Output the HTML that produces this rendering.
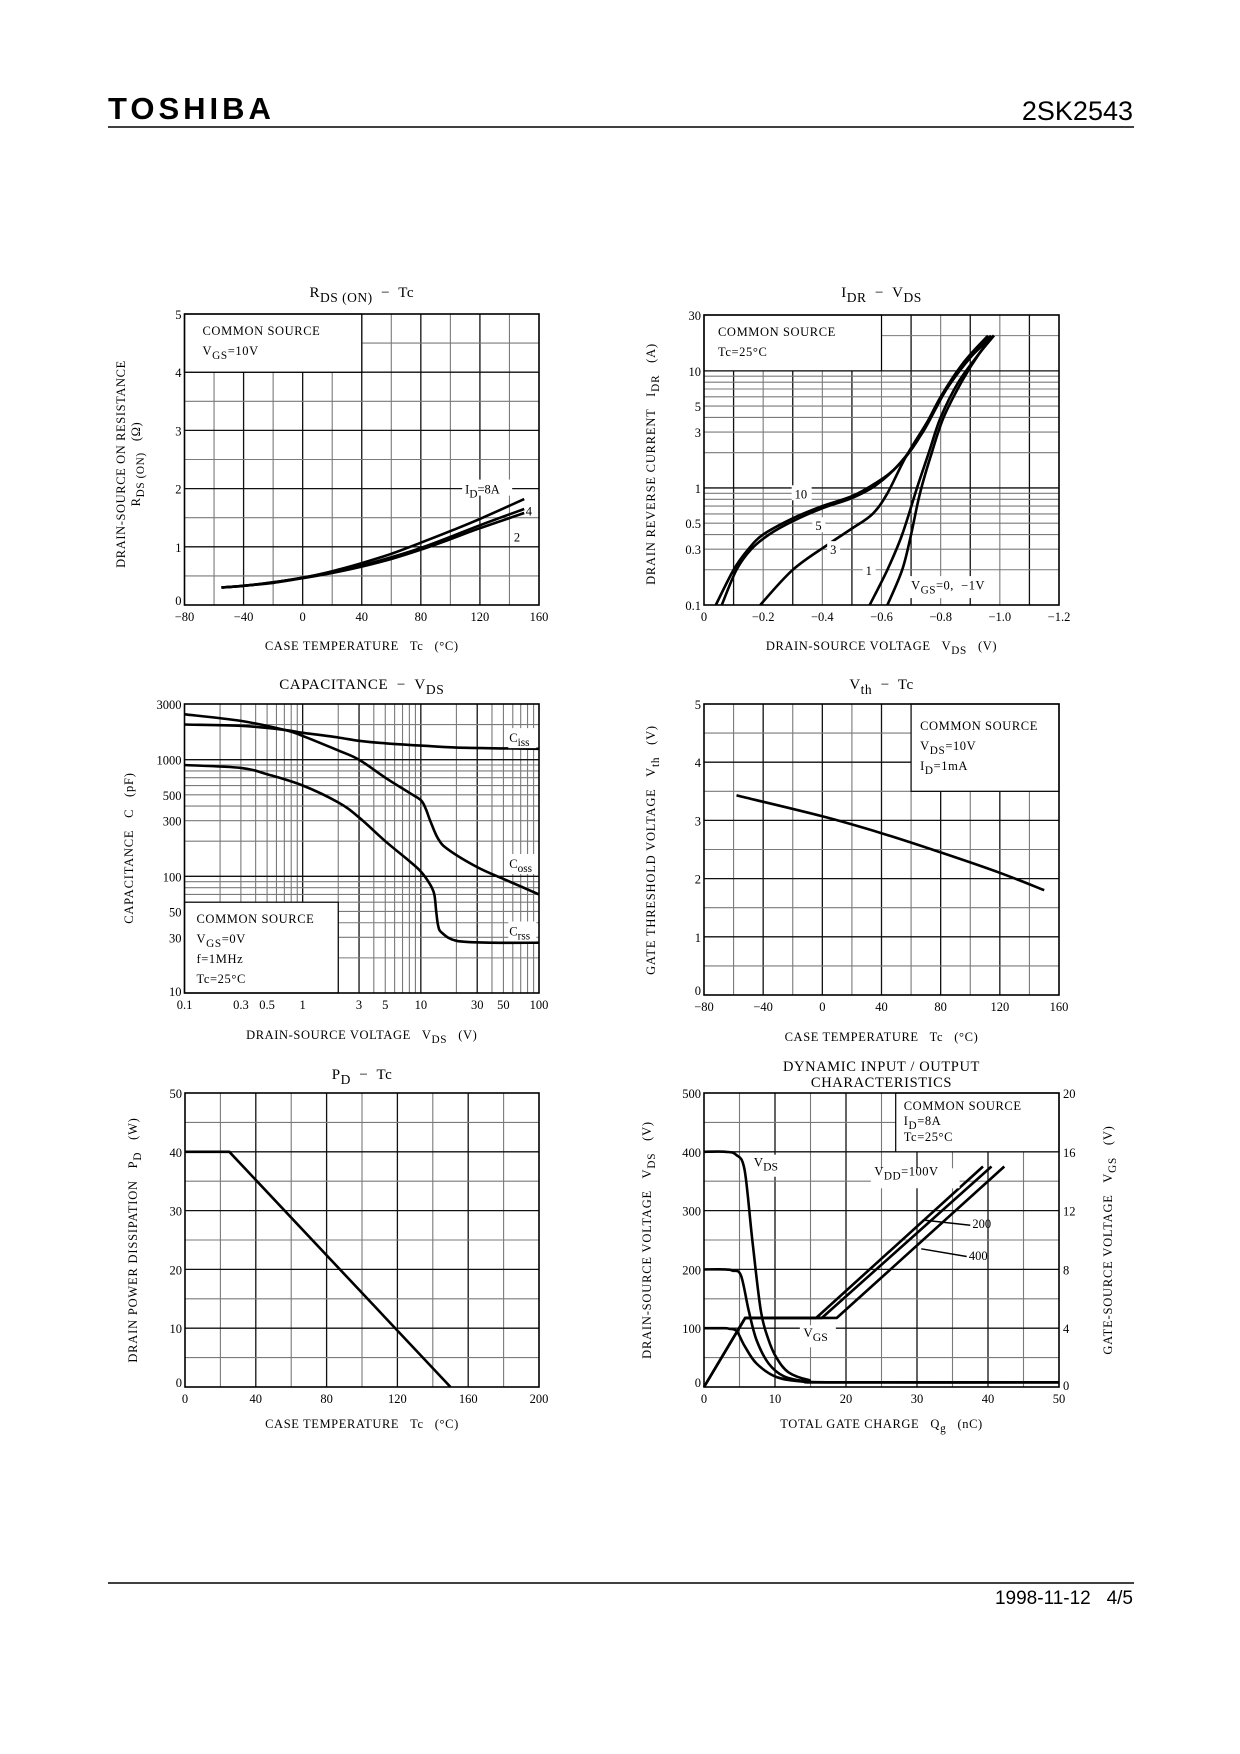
<!DOCTYPE html>
<html><head><meta charset="utf-8"><title>2SK2543 characteristics</title>
<style>
html,body{margin:0;padding:0;background:#fff;}
#page{position:relative;width:1240px;height:1754px;overflow:hidden;background:#fff;}
svg text{font-family:"Liberation Serif",serif;fill:#000;white-space:pre;}
</style></head>
<body>
<div id="page">
<svg id="svg" width="1240" height="1754" viewBox="0 0 1240 1754">
  <text x="108" y="119" font-weight="bold" font-size="31" style="font-family:'Liberation Sans',sans-serif;letter-spacing:4px">TOSHIBA</text>
  <text x="1133" y="120" text-anchor="end" font-size="27" style="font-family:'Liberation Sans',sans-serif">2SK2543</text>
  <line x1="108" y1="127" x2="1134" y2="127" stroke="#000" stroke-width="1.5"/>
  <line x1="108" y1="1583" x2="1134" y2="1583" stroke="#000" stroke-width="1.5"/>
  <text x="1133" y="1604" text-anchor="end" font-size="19" style="font-family:'Liberation Sans',sans-serif">1998-11-12&#160;&#160;&#160;4/5</text>
</svg>
</div>
<script>
// ---------- DATA ----------
const rdsTemps = [-55,-40,-20,0,20,40,60,80,100,120,150];
const rdsId8 = [0.30,0.33,0.39,0.47,0.58,0.72,0.88,1.07,1.27,1.48,1.82];
const rdsId4 = [0.30,0.33,0.39,0.47,0.56,0.68,0.82,0.98,1.17,1.37,1.65];
const rdsId2 = [0.30,0.33,0.38,0.46,0.55,0.66,0.79,0.95,1.13,1.32,1.58];
const rdsXTicks = [-80,-40,0,40,80,120,160];
const rdsYTicks = [0,1,2,3,4,5];
const idrV10 = [0.04,0.10,0.15,0.20,0.30,0.40,0.50,0.58,0.65,0.72,0.80,0.88,0.96];
const idrI10 = [0.1,0.2,0.3,0.4,0.55,0.7,0.85,1.1,1.5,2.5,6,12,20];
const idrV5 = [0.06,0.11,0.16,0.22,0.30,0.40,0.50,0.58,0.66,0.74,0.82,0.90,0.97];
const idrI5 = [0.1,0.2,0.3,0.4,0.52,0.67,0.82,1.05,1.6,3,7,13,20];
const idrV3 = [0.19,0.30,0.42,0.50,0.57,0.62,0.68,0.75,0.82,0.90,0.98];
const idrI3 = [0.1,0.2,0.33,0.45,0.6,0.9,1.8,3.5,7,13,20];
const idrV1 = [0.56,0.62,0.67,0.72,0.76,0.80,0.86,0.93,0.98];
const idrI1 = [0.1,0.2,0.4,1,2,4,8,14,20];
const idrV0 = [0.62,0.67,0.70,0.73,0.77,0.81,0.87,0.93,0.98];
const idrI0 = [0.1,0.2,0.4,0.9,2,4,8,14,20];
const idrXTicks = [0,0.2,0.4,0.6,0.8,1.0,1.2];
const idrXLabels = ["0","\u22120.2","\u22120.4","\u22120.6","\u22120.8","\u22121.0","\u22121.2"];
const idrYTicks = [0.1,0.3,0.5,1,3,5,10,30];
const cissV = [0.1,0.3,0.7,1,2,3,5,10,20,50,100];
const cissC = [2000,1950,1800,1700,1550,1450,1380,1320,1270,1250,1240];
const cossV = [0.1,0.3,0.7,1,2,3,5,8,10,11,12,14,17,30,50,100];
const cossC = [2450,2150,1800,1600,1200,1000,700,520,450,380,300,210,170,120,95,70];
const crssV = [0.1,0.3,0.5,1,2,3,5,8,10,12,13,13.5,14,15,20,40,100];
const crssC = [900,850,750,600,430,320,200,135,110,85,70,50,38,33,28,27,27];
const capXTicks = [0.1,0.3,0.5,1,3,5,10,30,50,100];
const capYTicks = [10,30,50,100,300,500,1000,3000];
const vthTemps = [-58,0,40,80,120,150];
const vthVals = [3.43,3.07,2.78,2.45,2.10,1.80];
const vthXTicks = [-80,-40,0,40,80,120,160];
const vthYTicks = [0,1,2,3,4,5];
const pdTemps = [0,25,150];
const pdVals = [40,40,0];
const pdXTicks = [0,40,80,120,160,200];
const pdYTicks = [0,10,20,30,40,50];
const dynQ400 = [0,3,4.5,5.7,6.8,8,9.1,10.2,11.9,14.7,18,50];
const dynV400 = [400,400,395,370,250,130,80,50,25,12,8,8];
const dynQ200 = [0,3,4,5.2,6.3,7.4,9.1,11.3,14.7,18,50];
const dynV200 = [200,200,198,190,130,80,40,18,9,8,8];
const dynQ100 = [0,3,3.5,4.6,5.7,7.4,10.2,14,18,50];
const dynV100 = [100,100,99,95,70,40,17,9,8,8];
const vgsQ100 = [0,5.8,15.8,39.3];
const vgsV100 = [0,4.7,4.7,15];
const vgsQ200 = [0,5.8,16.6,40.5];
const vgsV200 = [0,4.7,4.7,15];
const vgsQ400 = [0,5.8,18.7,42.3];
const vgsV400 = [0,4.7,4.7,15];
const dynXTicks = [0,10,20,30,40,50];
const dynYTicks = [0,100,200,300,400,500];
const dynY2Ticks = [0,4,8,12,16,20];

// ---------- HELPERS ----------
const NS = 'http://www.w3.org/2000/svg';
const svg = document.getElementById('svg');
function el(tag, attrs, parent){
  const e = document.createElementNS(NS, tag);
  for (const k in attrs) e.setAttribute(k, attrs[k]);
  (parent || svg).appendChild(e);
  return e;
}
function lin(d0,d1,p0,p1){ return v => p0 + (v-d0)/(d1-d0)*(p1-p0); }
function lg(d0,d1,p0,p1){ return v => p0 + (Math.log10(v)-Math.log10(d0))/(Math.log10(d1)-Math.log10(d0))*(p1-p0); }
function rich(t, s, size){
  const parts = s.split(/(_\{[^}]*\})/);
  let sub = false;
  for (const p of parts){
    if (!p) continue;
    const ts = document.createElementNS(NS,'tspan');
    
    
    if (p.startsWith('_{')){
      ts.textContent = p.slice(2,-1);
      ts.setAttribute('dy', size*0.32);
      ts.setAttribute('font-size', size*0.9);
      sub = true;
    } else {
      ts.textContent = p;
      if (sub){ ts.setAttribute('dy', -size*0.32); sub = false; }
    }
    t.appendChild(ts);
  }
}
function txt(x,y,s,size,anchor,name,rot,ls){
  const t = el('text',{x:x,y:y,'font-size':size,'text-anchor':anchor||'start'});
  
  
  if (ls) t.setAttribute('letter-spacing', ls);
  if (rot) t.setAttribute('transform','rotate(-90 '+x+' '+y+')');
  rich(t,s,size);
  return t;
}
function curvePath(pts){
  let d = 'M'+pts[0][0].toFixed(1)+','+pts[0][1].toFixed(1);
  for (let i=0;i<pts.length-1;i++){
    const p0=pts[Math.max(0,i-1)], p1=pts[i], p2=pts[i+1], p3=pts[Math.min(pts.length-1,i+2)];
    const c1=[p1[0]+(p2[0]-p0[0])/6, p1[1]+(p2[1]-p0[1])/6];
    const c2=[p2[0]-(p3[0]-p1[0])/6, p2[1]-(p3[1]-p1[1])/6];
    d += ' C'+c1[0].toFixed(1)+','+c1[1].toFixed(1)+' '+c2[0].toFixed(1)+','+c2[1].toFixed(1)+' '+p2[0].toFixed(1)+','+p2[1].toFixed(1);
  }
  return d;
}
function series(xs, ys, sx, sy, name, straight){
  const pts = xs.map((v,i)=>[sx(v), sy(ys[i])]);
  const d = straight ? 'M'+pts.map(p=>p[0].toFixed(1)+','+p[1].toFixed(1)).join(' L') : curvePath(pts);
  const p = el('path',{d:d,fill:'none',stroke:'#000','stroke-width':2.6,'stroke-linejoin':'round'});
  
  
  return p;
}
function vline(x,y0,y1,major){
  const l = el('line',{x1:x,y1:y0,x2:x,y2:y1,stroke:major?'#111':'#7a7a7a','stroke-width':major?1.3:1.1});
  
  
}
function hline(y,x0,x1,major){
  const l = el('line',{x1:x0,y1:y,x2:x1,y2:y,stroke:major?'#111':'#7a7a7a','stroke-width':major?1.3:1.1});
  
  
}
function frame(P,name){
  const r = el('rect',{x:P.x0,y:P.yt,width:P.x1-P.x0,height:P.yb-P.yt,fill:'none',stroke:'#000','stroke-width':1.6});
  
  
}
function box(x0,y0,x1,y1,name){
  const r = el('rect',{x:Math.min(x0,x1),y:Math.min(y0,y1),width:Math.abs(x1-x0),height:Math.abs(y1-y0),fill:'#fff',stroke:'#000','stroke-width':1.2});
  
  
}
function lines(vals, f, P, isV, majorFn){
  vals.forEach(v=>{ const p=f(v); if(isV) vline(p,P.yt,P.yb,majorFn(v)); else hline(p,P.x0,P.x1,majorFn(v)); });
}
function range(a,b,s){ const r=[]; for(let v=a; v<=b+1e-9; v+=s) r.push(+v.toFixed(6)); return r; }
function fmtT(v){ return v<0 ? '\u2212'+Math.abs(v) : String(v); }

// ---------- CHART 1 ----------
(function(){
  const P={x0:184.5,x1:539,yt:314,yb:605};
  const sx=lin(-80,160,P.x0,P.x1), sy=lin(0,5,P.yb,P.yt);
  lines(range(-60,140,20),sx,P,true,v=>v%40===0);
  lines(range(0.5,4.5,0.5),sy,P,false,v=>Number.isInteger(v));
  box(sx(-80),sy(5),sx(40),sy(4),'legend-box-rds');
  frame(P,'plot-frame-rds');
  txt(sx(-80)+18,sy(5)+21,'COMMON SOURCE',12.5,'start','legend-common-source',false,0.6);
  txt(sx(-80)+18,sy(5)+41,'V_{GS}=10V',12.5,'start','legend-vgs',false,0.6);
  series(rdsTemps,rdsId8,sx,sy,'series-id-8a');
  series(rdsTemps,rdsId4,sx,sy,'series-id-4a');
  series(rdsTemps,rdsId2,sx,sy,'series-id-2a');
  const bg=el('rect',{x:sx(108),y:sy(2)-9,width:50,height:16,fill:'#fff'});
   
  txt(sx(110),sy(2)+5,'I_{D}=8A',12.5,'start','label-id-8a');
  txt(sx(151),sy(1.62)+5,'4',12.5,'start','label-id-4a');
  txt(sx(143),sy(1.18)+5,'2',12.5,'start','label-id-2a');
  rdsXTicks.forEach(v=>txt(sx(v),P.yb+16,fmtT(v),12.5,'middle','x-tick-label'));
  rdsYTicks.forEach(v=>txt(P.x0-3,sy(v)+(v===0?0:5),String(v),12.5,'end','y-tick-label'));
  txt((P.x0+P.x1)/2,297,'R_{DS (ON)}  \u2212  Tc',15,'middle','chart-title-rds',false,0.5);
  txt((P.x0+P.x1)/2,650,'CASE TEMPERATURE   Tc   (\u00b0C)',12.5,'middle','x-axis-title-rds',false,0.6);
  txt(125,464,'DRAIN-SOURCE ON RESISTANCE',12.5,'middle','y-axis-title-rds',true,0.6);
  txt(140,464,'R_{DS (ON)}   (\u03a9)',12.5,'middle','y-axis-title-rds-2',true,0.6);
})();

// ---------- CHART 2 ----------
(function(){
  const P={x0:704,x1:1059,yt:315,yb:605};
  const sx=lin(0,1.2,P.x0,P.x1), sy=lg(0.1,30,P.yb,P.yt);
  lines(range(0.1,1.1,0.1),sx,P,true,v=>Math.round(v*10)%2===1);
  const hv=[0.2,0.3,0.4,0.5,0.6,0.7,0.8,0.9,1,2,3,4,5,6,7,8,9,10,20];
  lines(hv,sy,P,false,v=>v===1||v===10);
  box(sx(0),sy(30),sx(0.6),sy(10),'legend-box-idr');
  frame(P,'plot-frame-idr');
  txt(sx(0)+14,sy(30)+21,'COMMON SOURCE',12.5,'start','legend-common-source',false,0.6);
  txt(sx(0)+14,sy(30)+41,'Tc=25\u00b0C',12.5,'start','legend-tc',false,0.6);
  series(idrV10,idrI10,sx,sy,'series-vgs-10v');
  series(idrV5,idrI5,sx,sy,'series-vgs-5v');
  series(idrV3,idrI3,sx,sy,'series-vgs-3v');
  series(idrV1,idrI1,sx,sy,'series-vgs-1v');
  series(idrV0,idrI0,sx,sy,'series-vgs-0v');
  [['10',0.32,0.9],['5',0.39,0.48],['3',0.44,0.3],['1',0.56,0.2]].forEach(a=>{
    const r=el('rect',{x:sx(a[1])-7,y:sy(a[2])-8,width:a[0].length*7+6,height:15,fill:'#fff'});
     
    txt(sx(a[1])-4,sy(a[2])+5,a[0],12.5,'start','curve-label-'+a[0]);
  });
  const r2=el('rect',{x:sx(0.69),y:sy(0.16)-5,width:sx(0.98)-sx(0.69),height:22,fill:'#fff'});
   
  txt(sx(0.7),sy(0.135),'V_{GS}=0,  \u22121V',12.5,'start','curve-label-vgs-0',false,0.5);
  idrXTicks.forEach((v,i)=>txt(sx(v),P.yb+16,idrXLabels[i],12.5,'middle','x-tick-label'));
  idrYTicks.forEach(v=>txt(P.x0-3,sy(v)+5,String(v),12.5,'end','y-tick-label'));
  txt((P.x0+P.x1)/2,297,'I_{DR}  \u2212  V_{DS}',15,'middle','chart-title-idr',false,0.5);
  txt((P.x0+P.x1)/2,650,'DRAIN-SOURCE VOLTAGE   V_{DS}   (V)',12.5,'middle','x-axis-title-idr',false,0.6);
  txt(655,464,'DRAIN REVERSE CURRENT   I_{DR}   (A)',12.5,'middle','y-axis-title-idr',true,0.8);
})();

// ---------- CHART 3 ----------
(function(){
  const P={x0:184.5,x1:539,yt:704,yb:993};
  const sx=lg(0.1,100,P.x0,P.x1), sy=lg(10,3000,P.yb,P.yt);
  const xv=[]; [0.1,1,10].forEach(d=>{for(let k=2;k<=10;k++){ if(d*k<100) xv.push(+(d*k).toFixed(3)); }});
  lines(xv,sx,P,true,v=>v===1||v===10||v===3||v===30);
  const yv=[]; [10,100,1000].forEach(d=>{for(let k=2;k<=10;k++){ if(d*k<3000) yv.push(d*k); }});
  lines(yv,sy,P,false,v=>v===100||v===1000);
  box(sx(0.1),sy(60),sx(2),sy(10),'legend-box-cap');
  frame(P,'plot-frame-cap');
  series(cissV,cissC,sx,sy,'series-ciss');
  series(cossV,cossC,sx,sy,'series-coss');
  series(crssV,crssC,sx,sy,'series-crss');
  [['C_{iss}',1500],['C_{oss}',125],['C_{rss}',33]].forEach(a=>{
    const r=el('rect',{x:sx(55),y:sy(a[1])-11,width:sx(95)-sx(55),height:20,fill:'#fff'});
     
    txt(sx(56),sy(a[1])+3,a[0],12.5,'start','curve-label-cap');
  });
  txt(sx(0.1)+12,sy(60)+21,'COMMON SOURCE',12.5,'start','legend-common-source',false,0.6);
  txt(sx(0.1)+12,sy(60)+41,'V_{GS}=0V',12.5,'start','legend-vgs',false,0.6);
  txt(sx(0.1)+12,sy(60)+61,'f=1MHz',12.5,'start','legend-freq',false,0.6);
  txt(sx(0.1)+12,sy(60)+81,'Tc=25\u00b0C',12.5,'start','legend-tc',false,0.6);
  capXTicks.forEach(v=>txt(sx(v),P.yb+16,String(v),12.5,'middle','x-tick-label'));
  capYTicks.forEach(v=>txt(P.x0-3,sy(v)+(v===10?3:5),String(v),12.5,'end','y-tick-label'));
  txt((P.x0+P.x1)/2,689,'CAPACITANCE  \u2212  V_{DS}',15,'middle','chart-title-cap',false,0.6);
  txt((P.x0+P.x1)/2,1039,'DRAIN-SOURCE VOLTAGE   V_{DS}   (V)',12.5,'middle','x-axis-title-cap',false,0.6);
  txt(133,848,'CAPACITANCE   C   (pF)',12.5,'middle','y-axis-title-cap',true,0.8);
})();

// ---------- CHART 4 ----------
(function(){
  const P={x0:704,x1:1059,yt:704,yb:995};
  const sx=lin(-80,160,P.x0,P.x1), sy=lin(0,5,P.yb,P.yt);
  lines(range(-60,140,20),sx,P,true,v=>v%40===0);
  lines(range(0.5,4.5,0.5),sy,P,false,v=>Number.isInteger(v));
  box(sx(60),sy(5),sx(160),sy(3.5),'legend-box-vth');
  frame(P,'plot-frame-vth');
  txt(sx(60)+9,sy(5)+26,'COMMON SOURCE',12.5,'start','legend-common-source',false,0.6);
  txt(sx(60)+9,sy(5)+46,'V_{DS}=10V',12.5,'start','legend-vds',false,0.6);
  txt(sx(60)+9,sy(5)+66,'I_{D}=1mA',12.5,'start','legend-id',false,0.6);
  series(vthTemps,vthVals,sx,sy,'series-vth');
  vthXTicks.forEach(v=>txt(sx(v),P.yb+16,fmtT(v),12.5,'middle','x-tick-label'));
  vthYTicks.forEach(v=>txt(P.x0-3,sy(v)+(v===0?0:5),String(v),12.5,'end','y-tick-label'));
  txt((P.x0+P.x1)/2,689,'V_{th}  \u2212  Tc',15,'middle','chart-title-vth',false,0.5);
  txt((P.x0+P.x1)/2,1041,'CASE TEMPERATURE   Tc   (\u00b0C)',12.5,'middle','x-axis-title-vth',false,0.6);
  txt(655,850,'GATE THRESHOLD VOLTAGE   V_{th}   (V)',12.5,'middle','y-axis-title-vth',true,0.8);
})();

// ---------- CHART 5 ----------
(function(){
  const P={x0:185,x1:539,yt:1093,yb:1387};
  const sx=lin(0,200,P.x0,P.x1), sy=lin(0,50,P.yb,P.yt);
  lines(range(20,180,20),sx,P,true,v=>v%40===0);
  lines(range(5,45,5),sy,P,false,v=>v%10===0);
  frame(P,'plot-frame-pd');
  series(pdTemps,pdVals,sx,sy,'series-pd',true);
  pdXTicks.forEach(v=>txt(sx(v),P.yb+16,String(v),12.5,'middle','x-tick-label'));
  pdYTicks.forEach(v=>txt(P.x0-3,sy(v)+(v===0?0:5),String(v),12.5,'end','y-tick-label'));
  txt((P.x0+P.x1)/2,1079,'P_{D}  \u2212  Tc',15,'middle','chart-title-pd',false,0.5);
  txt((P.x0+P.x1)/2,1428,'CASE TEMPERATURE   Tc   (\u00b0C)',12.5,'middle','x-axis-title-pd',false,0.6);
  txt(137,1240,'DRAIN POWER DISSIPATION   P_{D}   (W)',12.5,'middle','y-axis-title-pd',true,0.8);
})();

// ---------- CHART 6 ----------
(function(){
  const P={x0:704,x1:1059,yt:1093,yb:1387};
  const sx=lin(0,50,P.x0,P.x1), sy=lin(0,500,P.yb,P.yt), sy2=lin(0,20,P.yb,P.yt);
  lines(range(5,45,5),sx,P,true,v=>v%10===0);
  lines(range(50,450,50),sy,P,false,v=>v%100===0);
  box(sx(27),sy(500),sx(50),sy(400),'legend-box-dyn');
  frame(P,'plot-frame-dyn');
  txt(sx(27)+8,sy(500)+17,'COMMON SOURCE',12.5,'start','legend-common-source',false,0.6);
  txt(sx(27)+8,sy(500)+32,'I_{D}=8A',12.5,'start','legend-id',false,0.6);
  txt(sx(27)+8,sy(500)+48,'Tc=25\u00b0C',12.5,'start','legend-tc',false,0.6);
  series(dynQ400,dynV400,sx,sy,'series-vds-400v');
  series(dynQ200,dynV200,sx,sy,'series-vds-200v');
  series(dynQ100,dynV100,sx,sy,'series-vds-100v');
  series(vgsQ100,vgsV100,sx,sy2,'series-vgs-vdd-100v',true);
  series(vgsQ200,vgsV200,sx,sy2,'series-vgs-vdd-200v',true);
  series(vgsQ400,vgsV400,sx,sy2,'series-vgs-vdd-400v',true);
  const b1=el('rect',{x:sx(6.5),y:sy(395),width:36,height:22,fill:'#fff'});
   
  txt(sx(7),sy(375),'V_{DS}',13,'start','label-vds');
  const b2=el('rect',{x:sx(13.5),y:sy(105),width:36,height:22,fill:'#fff'});
   
  txt(sx(14),sy(85),'V_{GS}',13,'start','label-vgs');
  const b3=el('rect',{x:sx(23.5),y:sy(372),width:sx(36)-sx(23.5),height:20,fill:'#fff'});
   
  txt(sx(24),sy(360),'V_{DD}=100V',12.5,'start','label-vdd-100',false,0.5);
  const a1=el('line',{x1:sx(37.5),y1:sy(275),x2:sx(30.8),y2:sy(284),stroke:'#000','stroke-width':1.5});
   
  const a2=el('line',{x1:sx(37),y1:sy(222),x2:sx(30.6),y2:sy(235),stroke:'#000','stroke-width':1.5});
   
  txt(sx(37.8),sy(270),'200',12.5,'start','label-vdd-200');
  txt(sx(37.3),sy(216),'400',12.5,'start','label-vdd-400');
  dynXTicks.forEach(v=>txt(sx(v),P.yb+16,String(v),12.5,'middle','x-tick-label'));
  dynYTicks.forEach(v=>txt(P.x0-3,sy(v)+(v===0?0:5),String(v),12.5,'end','y-tick-label-left'));
  dynY2Ticks.forEach(v=>txt(P.x1+4,sy2(v)+(v===0?3:5),String(v),12.5,'start','y-tick-label-right'));
  txt((P.x0+P.x1)/2,1071,'DYNAMIC INPUT / OUTPUT',14.5,'middle','chart-title-dyn-1',false,0.6);
  txt((P.x0+P.x1)/2,1087,'CHARACTERISTICS',14.5,'middle','chart-title-dyn-2',false,0.6);
  txt((P.x0+P.x1)/2,1428,'TOTAL GATE CHARGE   Q_{g}   (nC)',12.5,'middle','x-axis-title-dyn',false,0.6);
  txt(651,1240,'DRAIN-SOURCE VOLTAGE   V_{DS}   (V)',12.5,'middle','y-axis-title-left-dyn',true,0.8);
  txt(1112,1240,'GATE-SOURCE VOLTAGE   V_{GS}   (V)',12.5,'middle','y-axis-title-right-dyn',true,0.8);
})();
</script>
</body></html>
